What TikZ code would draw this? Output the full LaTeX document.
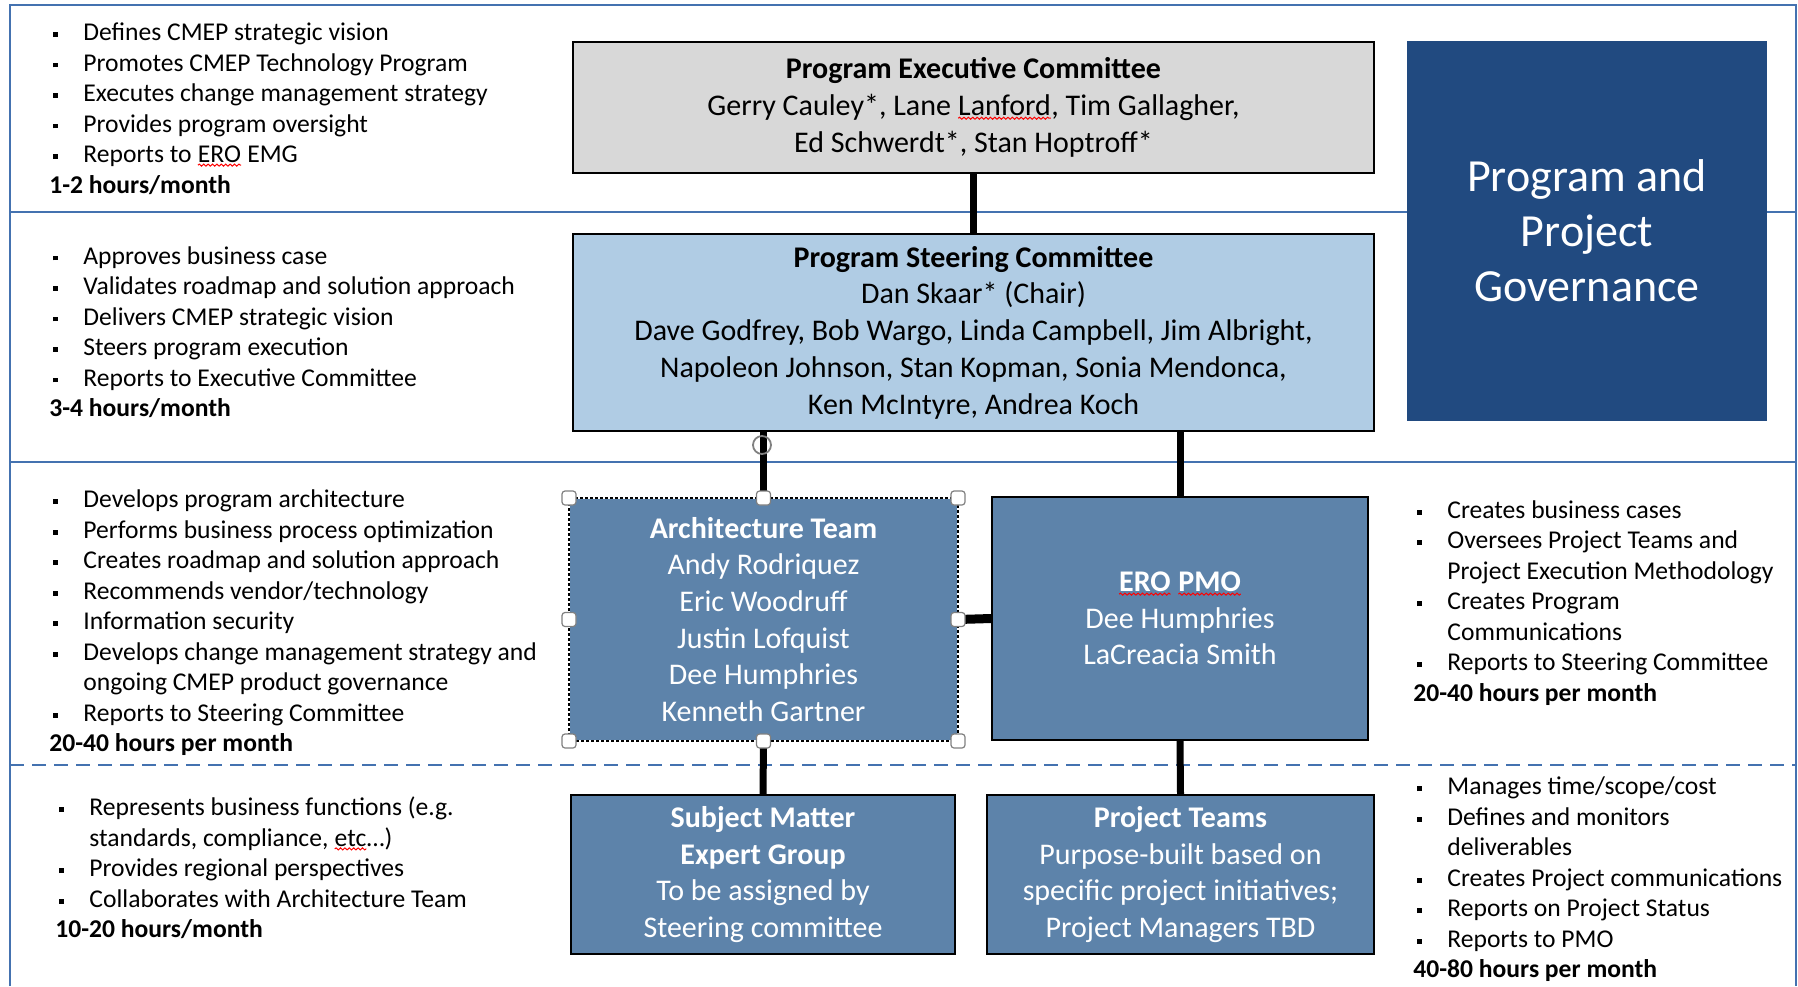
\documentclass[tikz,border=0pt]{standalone}
\usepackage{fontspec}
\setmainfont{Carlito}
\usetikzlibrary{decorations.pathmorphing}
\definecolor{frameblue}{RGB}{68,114,176}
\definecolor{govblue}{RGB}{33,74,128}
\definecolor{teamblue}{RGB}{93,131,170}
\definecolor{steerblue}{RGB}{176,204,228}
\definecolor{execgray}{RGB}{216,216,216}

\newcommand{\bl}{\hspace*{2pt}\makebox[15pt][l]{\raisebox{0.3ex}{\rule{2.4pt}{2.4pt}}}}
\newcommand{\ind}{\hspace*{17pt}}
\newcommand{\sqig}[1]{\tikz[baseline=(sq.base)]{\node[inner sep=0pt, outer sep=0pt, minimum size=0pt,
    draw=none, fill=none] (sq) {#1};
  \draw[red, line width=0.5pt, decorate, decoration={snake, amplitude=0.5pt, segment length=2.2pt}]
    ([yshift=-1.3pt]sq.base west) -- ([yshift=-1.3pt]sq.base east);}}

\tikzset{
  box/.style={draw=black, line width=1pt, align=center, inner sep=0pt,
    font=\fontsize{15pt}{18.35pt}\selectfont},
  teambox/.style={box, fill=teamblue, text=white},
  sidetext/.style={align=left, anchor=west, inner sep=0pt,
    font=\fontsize{12.8pt}{15.25pt}\selectfont},
  link/.style={line width=3.5pt, black},
  bandline/.style={frameblue, line width=1pt},
  handle/.style={draw=gray, fill=white, rounded corners=1.5pt, minimum size=7pt,
    inner sep=0pt, line width=0.6pt}
}

\begin{document}
\begin{tikzpicture}[x=0.5pt, y=-0.5pt]
  \useasboundingbox (0,0) rectangle (1798,986);
  % Frame and band separators
  \draw[bandline] (10,986) -- (10,5) -- (1796,5) -- (1796,986);
  \draw[bandline] (10,212) -- (1796,212);
  \draw[bandline] (10,462) -- (1796,462);
  \draw[bandline, dash pattern=on 7pt off 4pt] (10,765) -- (1796,765);

  % Title block
  \node[fill=govblue, text=white, minimum width=180pt, minimum height=190pt, align=center,
    font=\fontsize{23pt}{27.5pt}\selectfont] (gov) at (1587,231)
    {Program and\\ Project\\ Governance};

  % Committees and teams
  \node[box, fill=execgray, minimum width=400.5pt, minimum height=65.5pt] (pec) at (973.5,107.5)
    {\textbf{Program Executive Committee}\\
     Gerry Cauley*, Lane \sqig{Lanford}, Tim Gallagher,\\
     Ed Schwerdt*, Stan Hoptroff*};
  \node[box, fill=steerblue, minimum width=400.5pt, minimum height=98.5pt] (psc) at (973.5,332.5)
    {\textbf{Program Steering Committee}\\
     Dan Skaar* (Chair)\\
     Dave Godfrey, Bob Wargo, Linda Campbell, Jim Albright,\\
     Napoleon Johnson, Stan Kopman, Sonia Mendonca,\\
     Ken McIntyre, Andrea Koch};
  \node[teambox, draw=none, minimum width=193.5pt, minimum height=120.5pt] (arch) at (763.5,619.5)
    {\textbf{Architecture Team}\\ Andy Rodriquez\\ Eric Woodruff\\ Justin Lofquist\\
     Dee Humphries\\ Kenneth Gartner};
  \node[teambox, minimum width=188pt, minimum height=121.5pt] (pmo) at (1180,618.5)
    {\textbf{\sqig{ERO} \sqig{PMO}}\\ Dee Humphries\\ LaCreacia Smith};
  \node[teambox, minimum width=192pt, minimum height=79.5pt] (sme) at (763,874.5)
    {\textbf{Subject Matter}\\ \textbf{Expert Group}\\ To be assigned by\\ Steering committee};
  \node[teambox, minimum width=193.5pt, minimum height=79.5pt] (pt) at (1180.5,874.5)
    {\textbf{Project Teams}\\ Purpose-built based on\\ specific project initiatives;\\
     Project Managers TBD};

  % Connectors
  \draw[link] (pec.south) -- (psc.north);
  \draw[link] (psc.south -| arch.north) -- (arch.north);
  \draw[link] (psc.south -| pmo.north) -- (pmo.north);
  \draw[link, line width=4.5pt] (arch.east) -- (pmo.west);
  \draw[link] (arch.south) -- (sme.north);
  \draw[link] (pmo.south) -- (pt.north);

  % Selection frame of the architecture team
  \draw[black, line width=0.8pt, dash pattern=on 1.5pt off 1pt]
    (arch.north west) rectangle (arch.south east);
  \foreach \p [count=\i] in {north west, north, north east, east, south east, south, south west, west}
    \node[handle] (handle\i) at (arch.\p) {};
  \node[draw=gray, circle, minimum size=9pt, inner sep=0pt, line width=0.9pt] (rot) at (762,445) {};

  % Roles and time commitments
  \node[sidetext] (execroles) at (49,108.5)
    {\bl Defines CMEP strategic vision\\
     \bl Promotes CMEP Technology Program\\
     \bl Executes change management strategy\\
     \bl Provides program oversight\\
     \bl Reports to \sqig{ERO} EMG\\
     \textbf{1-2 hours/month}};
  \node[sidetext] (steerroles) at (49,332)
    {\bl Approves business case\\
     \bl Validates roadmap and solution approach\\
     \bl Delivers CMEP strategic vision\\
     \bl Steers program execution\\
     \bl Reports to Executive Committee\\
     \textbf{3-4 hours/month}};
  \node[sidetext] (archroles) at (49,623)
    {\bl Develops program architecture\\
     \bl Performs business process optimization\\
     \bl Creates roadmap and solution approach\\
     \bl Recommends vendor/technology\\
     \bl Information security\\
     \bl Develops change management strategy and\\
     \ind ongoing CMEP product governance\\
     \bl Reports to Steering Committee\\
     \textbf{20-40 hours per month}};
  \node[sidetext] (smeroles) at (55,868)
    {\bl Represents business functions (e.g.\\
     \ind standards, compliance, \sqig{etc}\dots)\\
     \bl Provides regional perspectives\\
     \bl Collaborates with Architecture Team\\
     \textbf{10-20 hours/month}};
  \node[sidetext] (pmoroles) at (1413,603)
    {\bl Creates business cases\\
     \bl Oversees Project Teams and\\
     \ind Project Execution Methodology\\
     \bl Creates Program\\
     \ind Communications\\
     \bl Reports to Steering Committee\\
     \textbf{20-40 hours per month}};
  \node[sidetext] (ptroles) at (1413,879.5)
    {\bl Manages time/scope/cost\\
     \bl Defines and monitors\\
     \ind deliverables\\
     \bl Creates Project communications\\
     \bl Reports on Project Status\\
     \bl Reports to PMO\\
     \textbf{40-80 hours per month}};
\end{tikzpicture}
\end{document}
